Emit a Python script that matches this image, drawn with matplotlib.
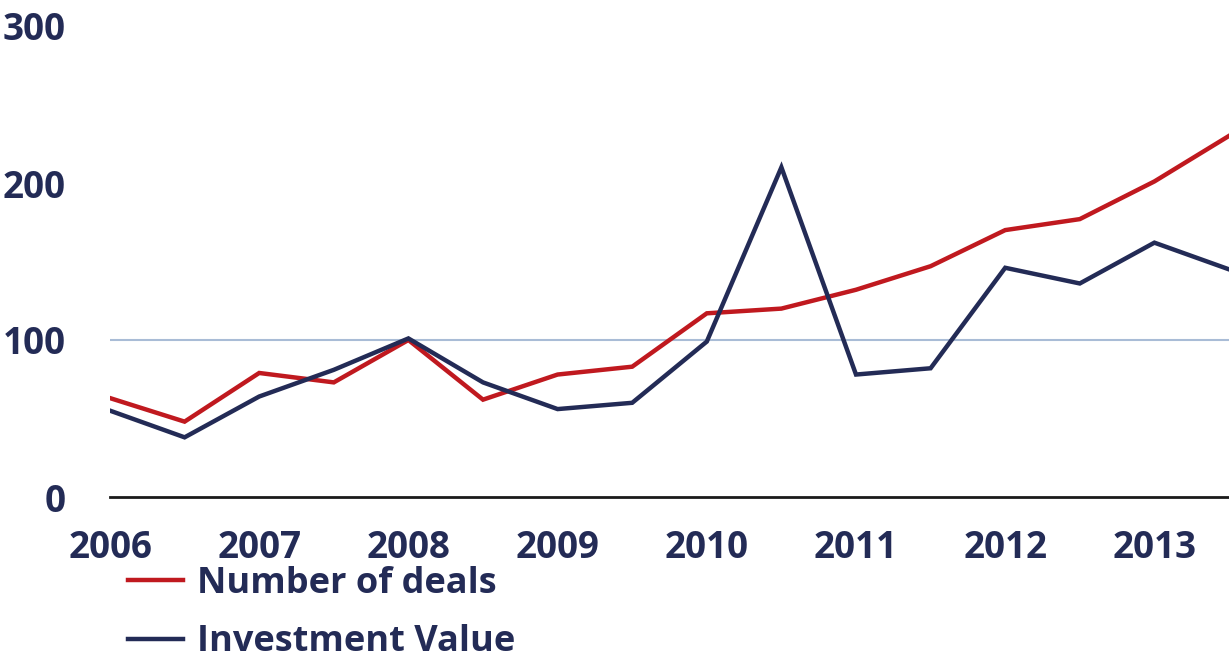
import matplotlib
matplotlib.use("Agg")
import matplotlib.pyplot as plt

years = [2006, 2006.5, 2007, 2007.5, 2008, 2008.5, 2009, 2009.5,
         2010, 2010.5, 2011, 2011.5, 2012, 2012.5, 2013, 2013.5]
number_of_deals = [63, 48, 79, 73, 100, 62, 78, 83,
                   117, 120, 132, 147, 170, 177, 201, 230]
investment_value = [55, 38, 64, 81, 101, 73, 56, 60,
                    99, 210, 78, 82, 146, 136, 162, 145]
x_ticks = [2006, 2007, 2008, 2009, 2010, 2011, 2012, 2013]
y_ticks = [0, 100, 200, 300]

RED = "#C0191F"
NAVY = "#232B56"
GRID = "#A9BCD6"

plt.rcParams['font.family'] = ['Open Sans', 'DejaVu Sans']
plt.rcParams['font.weight'] = 'bold'

fig = plt.figure(figsize=(12.29, 6.63), dpi=100)
ax = fig.add_axes([110/1229, 1-497/663, 1119/1229, (497-26)/663])

ax.plot(years, number_of_deals, color=RED, lw=3.2, label="Number of deals",
        solid_joinstyle='miter')
ax.plot(years, investment_value, color=NAVY, lw=3.2, label="Investment Value",
        solid_joinstyle='miter')

ax.set_xlim(2006, 2013.5)
ax.set_ylim(0, 300)
ax.axhline(100, color=GRID, lw=1.5, zorder=0)
ax.axhline(0, color="#1a1a1a", lw=2, zorder=3, clip_on=False)

for s in ax.spines.values():
    s.set_visible(False)

ax.set_xticks(x_ticks)
ax.set_yticks(y_ticks)
ax.tick_params(axis='both', length=0, labelsize=26.5, labelcolor=NAVY)
ax.tick_params(axis='x', pad=23)
ax.tick_params(axis='y', pad=32)
for lab in ax.get_xticklabels() + ax.get_yticklabels():
    lab.set_fontweight('bold')

leg = fig.legend(loc='upper left', bbox_to_anchor=(128/1229, 1-566/663),
                 frameon=False, fontsize=26, handlelength=1.53,
                 handletextpad=0.37, labelspacing=0.62, borderpad=0,
                 borderaxespad=0)
for t in leg.get_texts():
    t.set_color(NAVY)
    t.set_fontweight('bold')

fig.savefig("out.png", dpi=100)
